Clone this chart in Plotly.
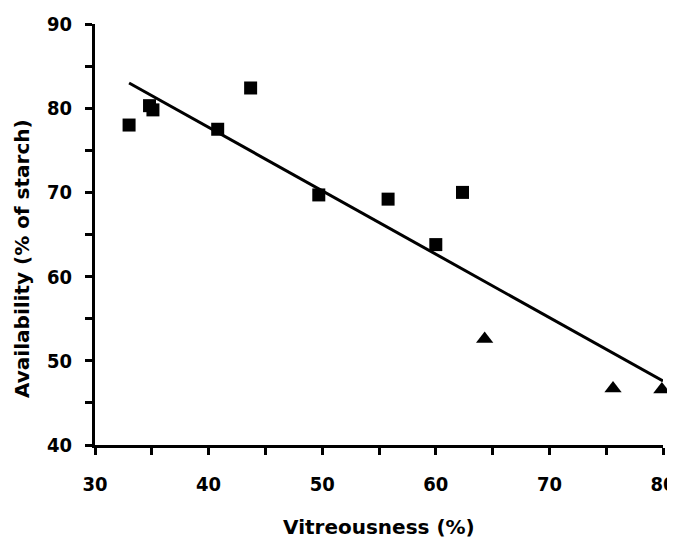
import plotly.graph_objects as go

# Data
sq_x = [33.0, 34.8, 35.1, 40.8, 43.7, 49.7, 55.8, 60.0, 62.35]
sq_y = [78.0, 80.3, 79.8, 77.5, 82.4, 69.7, 69.2, 63.8, 70.0]
tri_x = [64.3, 75.6, 79.9]
tri_y = [52.6, 46.7, 46.6]
fit_x = [33.0, 80.0]
fit_y = [83.0, 47.6]

x_ticks = [30, 40, 50, 60, 70, 80]
y_ticks = [40, 50, 60, 70, 80, 90]

FONT = "DejaVu Sans"
TICKFONT = "Liberation Sans Narrow, DejaVu Sans Condensed, Liberation Sans"

fig = go.Figure()
fig.add_trace(go.Scatter(x=fit_x, y=fit_y, mode="lines",
                         line=dict(color="black", width=3), cliponaxis=False,
                         showlegend=False))
fig.add_trace(go.Scatter(x=sq_x, y=sq_y, mode="markers",
                         marker=dict(symbol="square", size=13, color="black"),
                         cliponaxis=False, showlegend=False))
fig.add_trace(go.Scatter(x=tri_x, y=tri_y, mode="markers",
                         marker=dict(symbol="triangle-up", size=15, color="black"),
                         cliponaxis=False, showlegend=False))

axis_common = dict(showgrid=False, zeroline=False, showline=True, linecolor="black",
                   linewidth=3, ticks="outside", ticklen=7, tickwidth=3, tickcolor="black",
                   automargin=False, ticklabeloverflow="allow",
                   tickfont=dict(family=TICKFONT, size=20, color="black", weight="bold"))

fig.update_xaxes(range=[30, 80], tickvals=x_ticks, ticklabelstandoff=12,
                 minor=dict(ticks="outside", dtick=5, tick0=30, ticklen=7, tickwidth=3, tickcolor="black"),
                 **axis_common)
fig.update_yaxes(range=[40, 90], tickvals=y_ticks, ticklabelstandoff=9,
                 minor=dict(ticks="outside", dtick=5, tick0=40, ticklen=7, tickwidth=3, tickcolor="black"),
                 **axis_common)

fig.add_annotation(text="<b>Vitreousness (%)</b>", xref="paper", yref="paper",
                   x=0.5, y=-0.195, xanchor="center", yanchor="middle", showarrow=False,
                   font=dict(family=FONT, size=20, color="black"))
fig.add_annotation(text="<b>Availability (% of starch)</b>", xref="paper", yref="paper",
                   x=-0.1285, y=0.442, xanchor="center", yanchor="middle", showarrow=False,
                   textangle=-90, font=dict(family=FONT, size=20, color="black"))

# page has an 8px body margin; margins compensate so the plot sits where the reference has it
fig.update_layout(width=675, height=542, plot_bgcolor="white", paper_bgcolor="white",
                  margin=dict(l=87, r=20, t=16, b=105))

fig.write_html("out.html")
